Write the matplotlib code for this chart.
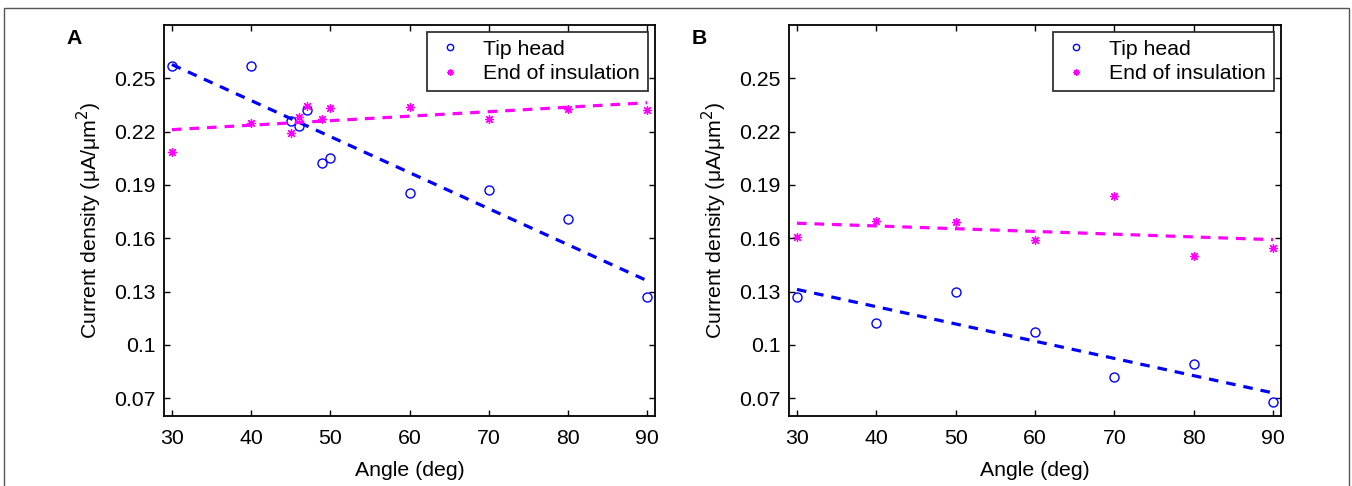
import matplotlib
matplotlib.use("Agg")
import matplotlib.pyplot as plt
import numpy as np
from matplotlib.patches import Rectangle

plt.rcParams['font.family'] = ['Liberation Sans', 'DejaVu Sans']

# panel A
angle_a = [30, 40, 45, 46, 47, 49, 50, 60, 70, 80, 90]
tip_a = [0.257, 0.257, 0.226, 0.223, 0.232, 0.2025, 0.2053, 0.1857, 0.1874, 0.171, 0.127]
end_a = [0.2087, 0.225, 0.2194, 0.2284, 0.2344, 0.2269, 0.2335, 0.2336, 0.2273, 0.2329, 0.2321]

# panel B
angle_b = [30, 40, 50, 60, 70, 80, 90]
tip_b = [0.1267, 0.1122, 0.130, 0.1073, 0.0818, 0.0891, 0.0676]
end_b = [0.1607, 0.1695, 0.1692, 0.1592, 0.184, 0.1498, 0.1545]

yticks = [0.07, 0.1, 0.13, 0.16, 0.19, 0.22, 0.25]
ytick_labels = ["0.07", "0.1", "0.13", "0.16", "0.19", "0.22", "0.25"]
xticks = [30, 40, 50, 60, 70, 80, 90]
labels = ["Tip head", "End of insulation"]

FS = 15.3
W, H = 1352, 486
fig = plt.figure(figsize=(W / 100, H / 100), dpi=100)

# thin frame around the figure (bottom edge is cut off)
fig.patches.append(Rectangle((4 / W, -0.1), 1345 / W, 1.1 - 8 / H, transform=fig.transFigure,
                             fill=False, edgecolor='#555555', linewidth=1.0))

boxes = [(164, 655), (789, 1281)]
top, bottom = 25, 416


def draw_panel(ax, x, tip, end):
    x = np.array(x, dtype=float)
    ax.plot(x, tip, linestyle='none', marker='o', mfc='none', mec='blue', ms=6.5, mew=1.0,
            label=labels[0])
    ax.plot(x, end, linestyle='none', marker=(8, 2, 0), color='magenta', ms=6.5, mew=0.9,
            label=labels[1])
    # least squares fit lines over the data range
    xs = np.array([x.min(), x.max()])
    p = np.polyfit(x, tip, 1)
    ax.plot(xs, np.polyval(p, xs), color='blue', lw=2.3, linestyle=(0, (3, 2.5)))
    p = np.polyfit(x, end, 1)
    ax.plot(xs, np.polyval(p, xs), color='magenta', lw=2.3, linestyle=(0, (3, 2.5)))

    ax.set_xlim(29, 91)
    ax.set_ylim(0.06, 0.28)
    ax.set_xticks(xticks)
    ax.set_yticks(yticks)
    ax.set_yticklabels(ytick_labels)
    ax.tick_params(direction='in', top=True, right=True, labelsize=FS, length=4, width=1,
                   pad=6)
    ax.tick_params(axis='x', pad=9)
    for s in ax.spines.values():
        s.set_linewidth(1.3)
    ax.set_xlabel("Angle (deg)", fontsize=FS, labelpad=10)
    ax.set_ylabel("Current density (\u03bcA/\u03bcm$^2$)", fontsize=FS, labelpad=7)
    leg = ax.legend(loc='upper right', fontsize=FS, frameon=True, fancybox=False,
                    edgecolor='black', handlelength=1.5, handletextpad=0.8,
                    borderaxespad=0.35, markerscale=0.7, borderpad=0.35, labelspacing=0.25)
    leg.get_frame().set_linewidth(1.3)


for (l, r), x, tip, end, name in [(boxes[0], angle_a, tip_a, end_a, "A"),
                                   (boxes[1], angle_b, tip_b, end_b, "B")]:
    ax = fig.add_axes([l / W, 1 - bottom / H, (r - l) / W, (bottom - top) / H])
    draw_panel(ax, x, tip, end)
    fig.text((l - 90) / W, 1 - 38 / H, name, fontsize=FS, fontweight='bold',
             ha='center', va='center')

fig.savefig("out.png", dpi=100)
